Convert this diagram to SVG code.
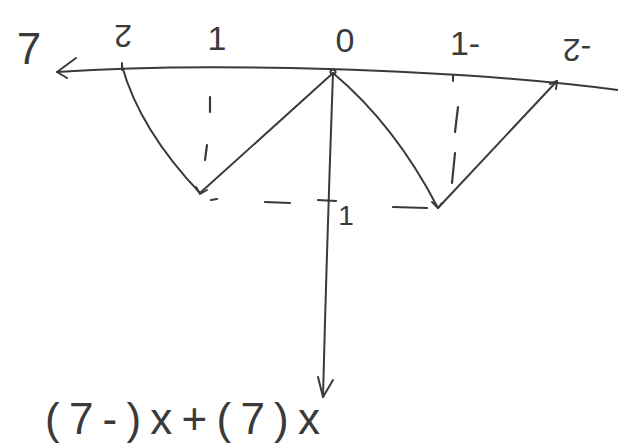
<svg xmlns="http://www.w3.org/2000/svg" width="618" height="445" viewBox="0 0 618 445">
<style>
.ln{fill:none;stroke:#3a3a3a;stroke-width:2;stroke-linecap:round;stroke-linejoin:round}
.ds{fill:none;stroke:#3a3a3a;stroke-width:2.2;stroke-linecap:round}
.t{font-family:"Liberation Sans","DejaVu Sans",sans-serif;fill:#3a3a3a}
</style>
<rect width="618" height="445" fill="#ffffff"/>
<g id="connectors">
<path class="ln" d="M57,72 C200,62 450,68 618,90"/>
<polyline class="ln" points="76,58 57,72 67,78"/>
<path class="ln" d="M122,66 Q140,130 200,193"/>
<path class="ln" d="M200,193 L333,73"/>
<path class="ln" d="M333,73 Q395,125 438,208"/>
<path class="ln" d="M438,208 L557,81"/>
<polyline class="ln" points="550,84 557,81 556,89"/>
<path class="ln" d="M333,73 Q327,240 323,397"/>
<polyline class="ln" points="318,377 323,397 333,380"/>
<polyline class="ln" points="196,187 200,194 207,190"/>
<polyline class="ln" points="432,202 438,208 442,203"/>
<path class="ln" d="M122,63 L122,70"/>
<path class="ln" d="M453,75 L453,81"/>
<circle class="ln" cx="333" cy="72" r="2.5"/>
</g>
<g id="dashes">
<path class="ds" d="M210,97 L210,112"/>
<path class="ds" d="M207,145 L205,160"/>
<path class="ds" d="M458,107 L455,132"/>
<path class="ds" d="M455,153 L452,183"/>
<path class="ds" d="M211,200 L217,199"/>
<path class="ds" d="M265,202 L290,203"/>
<path class="ds" d="M318,200 L336,201"/>
<path class="ds" d="M393,207 L427,208"/>
</g>
<g id="labels">
<text class="t" x="29" y="64" font-size="44" text-anchor="middle">7</text>
<text class="t" x="123" y="36" font-size="32" text-anchor="middle" dominant-baseline="central" transform="rotate(180 123 36)">2</text>
<text class="t" x="217" y="38" font-size="34" text-anchor="middle" dominant-baseline="central">1</text>
<text class="t" x="345" y="40" font-size="34" text-anchor="middle" dominant-baseline="central">0</text>
<text class="t" x="465" y="43" font-size="34" text-anchor="middle" dominant-baseline="central">1-</text>
<text class="t" x="577" y="50" font-size="32" text-anchor="middle" dominant-baseline="central" transform="rotate(180 577 50)">-2</text>
<text class="t" x="346" y="215" font-size="28" text-anchor="middle" dominant-baseline="central">1</text>
<text class="t" x="45" y="434" font-size="44" textLength="275" lengthAdjust="spacing">(7-)x+(7)x</text>
</g>
</svg>
